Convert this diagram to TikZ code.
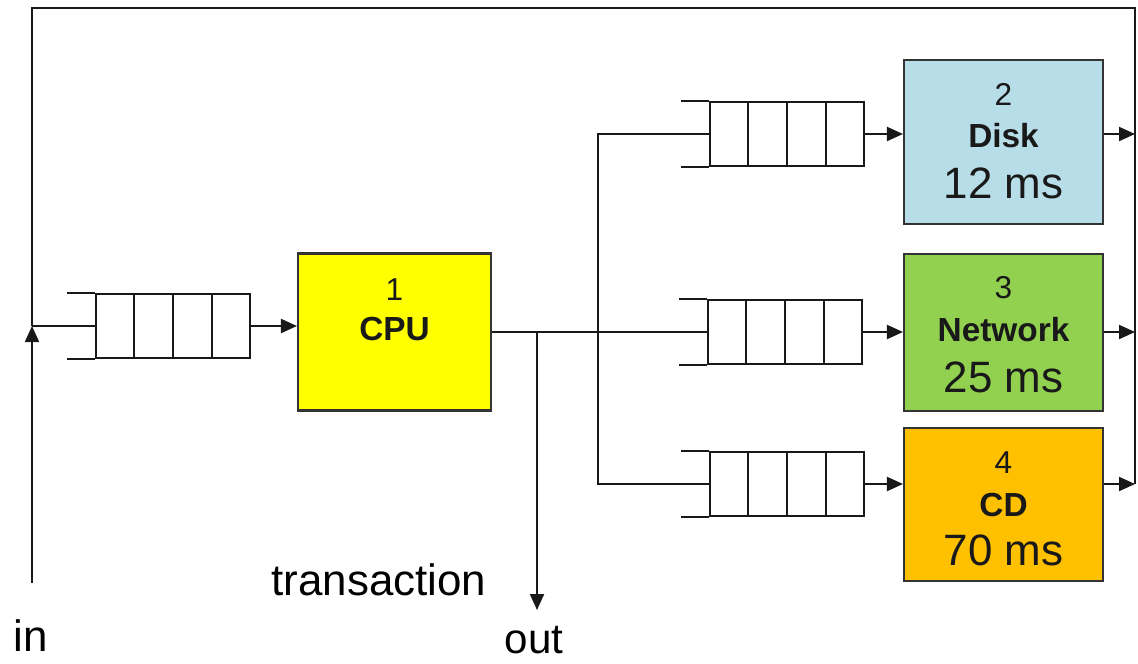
\documentclass[tikz,border=0pt]{standalone}
\usepackage{fontspec}
\setmainfont{Liberation Sans}
\usetikzlibrary{arrows.meta, calc}
\definecolor{diskblue}{RGB}{183, 221, 232}
\definecolor{netgreen}{RGB}{146, 208, 80}
\definecolor{cdorange}{RGB}{255, 192, 0}
\definecolor{cpuyellow}{RGB}{255, 255, 0}
\definecolor{wiregray}{RGB}{25, 25, 25}

\begin{document}
\begin{tikzpicture}[
    x=0.02cm, y=-0.02cm,
    wire/.style={line width=1.2pt, wiregray},
    arr/.style={wire, -{Triangle[length=3.2mm, width=2.8mm]}},
    server/.style={rectangle, draw=black!80, line width=1.2pt,
                   minimum width=3.98cm, minimum height=3.14cm, inner sep=0pt},
    queue/.style={rectangle, draw=wiregray, line width=1.2pt,
                  minimum width=3.08cm, minimum height=1.28cm, inner sep=0pt},
    numtxt/.style={font=\fontsize{18}{20}\selectfont, inner sep=0pt, text=black!90},
    nametxt/.style={font=\fontsize{19}{22}\selectfont\bfseries, inner sep=0pt, text=black!90},
    timetxt/.style={font=\fontsize{25}{28}\selectfont, inner sep=0pt, text=black!90},
    lbl/.style={font=\fontsize{25}{28}\selectfont, inner sep=0pt, anchor=base},
]
\useasboundingbox (0,0) rectangle (1138,663);

% service stations
\node[server, fill=cpuyellow, minimum width=3.86cm] (cpu) at (394.5,332) {};
\node[server, fill=diskblue, minimum height=3.28cm] (disk) at (1003.5,142) {};
\node[server, fill=netgreen] (net) at (1003.5,332.5) {};
\node[server, fill=cdorange, minimum height=3.06cm] (cd) at (1003.5,504.5) {};

\node[numtxt] (cpunum) at ($(cpu.north)+(0,37)$) {1};
\node[nametxt] (cpuname) at ($(cpu.north)+(0,77)$) {CPU};
\node[numtxt] (disknum) at ($(disk.north)+(0,35)$) {2};
\node[nametxt] (diskname) at ($(disk.north)+(0,77)$) {Disk};
\node[timetxt] (disktime) at ($(disk.north)+(0,124)$) {12 ms};
\node[numtxt] (netnum) at ($(net.north)+(0,35)$) {3};
\node[nametxt] (netname) at ($(net.north)+(0,77)$) {Network};
\node[timetxt] (nettime) at ($(net.north)+(0,124)$) {25 ms};
\node[numtxt] (cdnum) at ($(cd.north)+(0,36)$) {4};
\node[nametxt] (cdname) at ($(cd.north)+(0,78)$) {CD};
\node[timetxt] (cdtime) at ($(cd.north)+(0,123)$) {70 ms};

% queues
\node[queue] (q1) at (173,326) {};
\node[queue] (q2) at (787,134) {};
\node[queue] (q3) at (785,332) {};
\node[queue] (q4) at (787,484) {};

\foreach \q in {q1,q2,q3,q4} {
  \foreach \f in {0.25,0.5,0.75}
    \draw[wire] ($(\q.north west)!\f!(\q.north east)$) -- ($(\q.south west)!\f!(\q.south east)$);
  \draw[wire] (\q.north west) -- ++(-28,0);
  \draw[wire] (\q.south west) -- ++(-28,0);
}

% free ends and bends
\coordinate (src) at (32,583);
\coordinate (jin) at (32,326);
\coordinate (lefttop) at (32,8);
\coordinate (railtop) at (1135,8);
\coordinate (split) at (537,332);
\coordinate (bus) at (598,332);
\coordinate (sink) at (537,610);

\node[lbl] (inlbl) at (31,651) {in};
\node[lbl] (translbl) at (379,595) {transaction};
\node[lbl, font=\fontsize{24}{28}\selectfont] (outlbl) at (534,653) {out};

\draw[arr] (src) -- (jin);
\draw[wire] (jin) -- (q1.west);
\draw[arr] (q1.east) -- (q1.east -| cpu.west);
\draw[wire] (cpu.east) -- (q3.west);
\draw[arr] (split) -- (sink);
\draw[wire] (q2.west) -| (bus) |- (q4.west);

\draw[arr] (q2.east) -- (q2.east -| disk.west);
\draw[arr] (q3.east) -- (q3.east -| net.west);
\draw[arr] (q4.east) -- (q4.east -| cd.west);
\draw[arr] (q2.east -| disk.east) -- (q2.east -| railtop);
\draw[arr] (q3.east -| net.east) -- (q3.east -| railtop);
\draw[arr] (q4.east -| cd.east) -- (q4.east -| railtop);

% feedback loop
\draw[wire] (q4.east -| railtop) -- (railtop) -- (lefttop) -- (jin);

\end{tikzpicture}
\end{document}
